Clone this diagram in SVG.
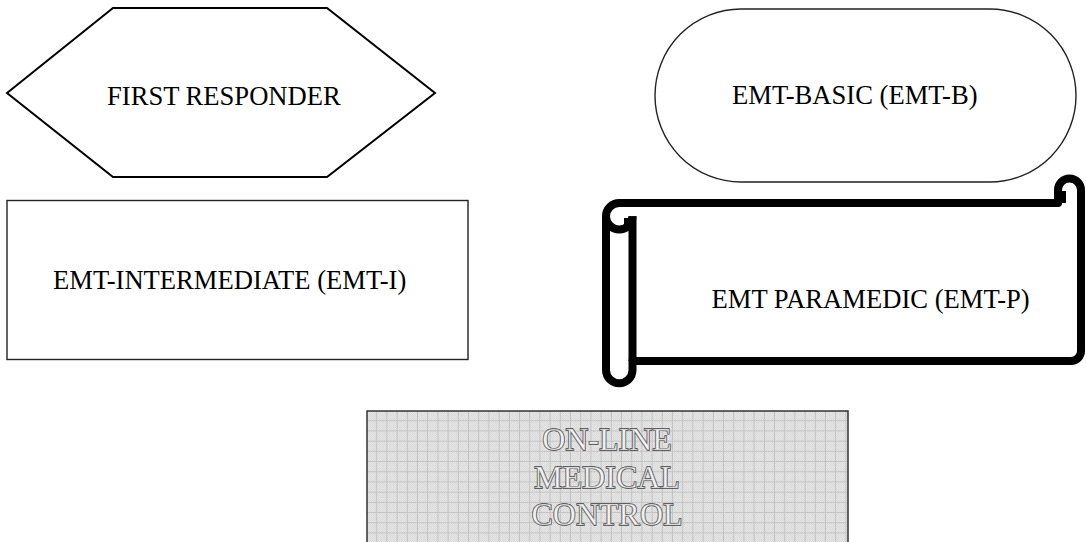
<svg xmlns="http://www.w3.org/2000/svg" width="1086" height="542" viewBox="0 0 1086 542">
  <style>
    .label { font-family: "Liberation Serif", "Times New Roman", serif; font-size: 26.6px; fill: #000; }
    .engrave-back { font-family: "Liberation Serif", "Times New Roman", serif; font-size: 32px; fill: #1e1e1e; stroke: #1e1e1e; stroke-width: 1.3; text-anchor: middle; }
    .engrave-front { font-family: "Liberation Serif", "Times New Roman", serif; font-size: 32px; fill: #f3f3f3; stroke: #a0a0a0; stroke-width: 0.5; text-anchor: middle; }
    .thin { fill: #fff; stroke: #222; stroke-width: 1.4; }
    .hex { fill: #fff; stroke: #000; stroke-width: 2; stroke-linejoin: miter; }
    .scroll { fill: #fff; stroke: #000; stroke-width: 8; stroke-linejoin: round; stroke-linecap: butt; }
    .curl { fill: none; stroke: #000; stroke-width: 8; stroke-linecap: butt; }
  </style>
  <defs>
    <!-- fine dither underneath the grid -->
    <pattern id="dither" patternUnits="userSpaceOnUse" width="2" height="2">
      <rect width="2" height="2" fill="#e6e6e6"/>
      <rect width="1" height="1" fill="#dadada"/>
      <rect x="1" y="1" width="1" height="1" fill="#dadada"/>
    </pattern>
    <!-- grid lines every ~10.2px -->
    <pattern id="grid" patternUnits="userSpaceOnUse" x="367" y="411" width="10.2" height="10.2">
      <line x1="9.7" y1="0" x2="9.7" y2="10.2" stroke="#c2c2c2" stroke-width="1"/>
      <line x1="0" y1="9.8" x2="10.2" y2="9.8" stroke="#c2c2c2" stroke-width="1"/>
    </pattern>
  </defs>

  <rect width="1086" height="542" fill="#fff"/>

  <g id="first-responder">
    <polygon class="hex" points="7,93 113,8 327,8 435,93 327,177 113,177"/>
    <text class="label" x="107" y="105">FIRST RESPONDER</text>
  </g>

  <g id="emt-basic">
    <rect class="thin" x="655" y="9" width="421" height="173" rx="86" ry="86.5"/>
    <text class="label" x="732" y="104">EMT-BASIC (EMT-B)</text>
  </g>

  <g id="emt-intermediate">
    <rect class="thin" x="7" y="200.5" width="461" height="159" stroke="#333"/>
    <text class="label" x="53" y="289">EMT-INTERMEDIATE (EMT-I)</text>
  </g>

  <g id="emt-paramedic">
    <!-- scroll body with rolled ends -->
    <path class="scroll" d="M606 216.25 A13.25 13.25 0 0 1 619.25 203 L1058 203 L1058 190 A11.5 11.5 0 0 1 1081 190 L1081 351 A10 10 0 0 1 1071 361 L632.5 361 L632.5 370 A13.25 13.25 0 0 1 606 370 Z"/>
    <!-- left roll: edge and curl -->
    <path class="curl" d="M632.5 216.25 L632.5 361"/>
    <path class="curl" d="M632.5 216.25 A13.25 13.25 0 0 1 606 216.25"/>
    <path class="curl" d="M628 218 L628 230"/>
    <!-- right roll curl -->
    <path class="curl" d="M1062 191 L1062 203"/>
    <text class="label" x="711.5" y="308">EMT PARAMEDIC (EMT-P)</text>
  </g>

  <g id="online-medical-control">
    <rect x="367" y="411" width="481" height="140" fill="url(#dither)"/>
    <rect x="367" y="411" width="481" height="140" fill="url(#grid)"/>
    <path d="M367 542 L367 411 L848 411 L848 542" fill="none" stroke="#333" stroke-width="1.5"/>
    <text class="engrave-back" x="607" y="450">ON-LINE</text>
    <text class="engrave-front" x="607" y="450">ON-LINE</text>
    <text class="engrave-back" x="607" y="487.5">MEDICAL</text>
    <text class="engrave-front" x="607" y="487.5">MEDICAL</text>
    <text class="engrave-back" x="607" y="525">CONTROL</text>
    <text class="engrave-front" x="607" y="525">CONTROL</text>
  </g>

  <g id="connectors"/>
</svg>
